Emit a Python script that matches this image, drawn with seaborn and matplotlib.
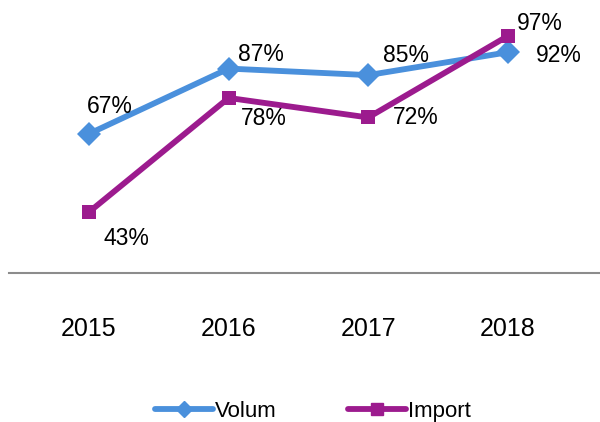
import matplotlib; matplotlib.use('Agg')
import matplotlib.pyplot as plt
import seaborn as sns
import pandas as pd

# data
years = ['2015', '2016', '2017', '2018']
volum = [67, 87, 85, 92]
imports = [43, 78, 72, 97]

sns.set_style('white')
plt.rcParams['font.family'] = ['Liberation Sans', 'DejaVu Sans']
plt.rcParams['text.color'] = 'black'
plt.rcParams['xtick.color'] = 'black'

df = pd.DataFrame({
    'year': years * 2,
    'val': volum + imports,
    'series': ['Volum'] * 4 + ['Import'] * 4,
})
colors = {'Volum': '#4a90dc', 'Import': '#9c1b8e'}

fig = plt.figure(figsize=(6, 4.22), dpi=100)
ax = fig.add_axes([0.015, 1 - 273 / 422, 0.985, (273 - 20) / 422])

sns.lineplot(data=df, x='year', y='val', hue='series', style='series',
             palette=colors, markers={'Volum': 'D', 'Import': 's'},
             dashes=False, lw=4.2, markersize=12.5, markeredgewidth=0,
             sort=False, ax=ax, legend=False)
ax.lines[1].set_markersize(10.5)

ax.set_xlim(-0.573, 3.66)
ax.set_ylim(24.3, 101.9)
ax.set_yticks([])
ax.set_xlabel(''); ax.set_ylabel('')
for s in ['top', 'left', 'right']:
    ax.spines[s].set_visible(False)
ax.spines['bottom'].set_color('#8c8c8c')
ax.spines['bottom'].set_linewidth(1.5)
ax.tick_params(axis='x', length=0, pad=32, labelsize=18)

# data labels (offsets in points)
off_v = [(15, 19.5), (23, 10), (27, 14), (37, -2)]
off_i = [(27, -19), (25, -15), (34, 0), (23, 9)]
for i, y in enumerate(years):
    ax.annotate(f'{volum[i]}%', (i, volum[i]), xytext=off_v[i],
                textcoords='offset points', ha='center', va='center', fontsize=16.5)
    ax.annotate(f'{imports[i]}%', (i, imports[i]), xytext=off_i[i],
                textcoords='offset points', ha='center', va='center', fontsize=16.5)

h1 = plt.Line2D([], [], color=colors['Volum'], lw=4.2, marker='D', markersize=8)
h2 = plt.Line2D([], [], color=colors['Import'], lw=4.2, marker='s', markersize=8)
fig.legend([h1, h2], ['Volum', 'Import'], loc='center', bbox_to_anchor=(0.522, 0.026),
           ncol=2, frameon=False, fontsize=16, handlelength=2.6, handletextpad=0.1,
           columnspacing=3.2, borderpad=0)

plt.savefig('out.png', dpi=100)
